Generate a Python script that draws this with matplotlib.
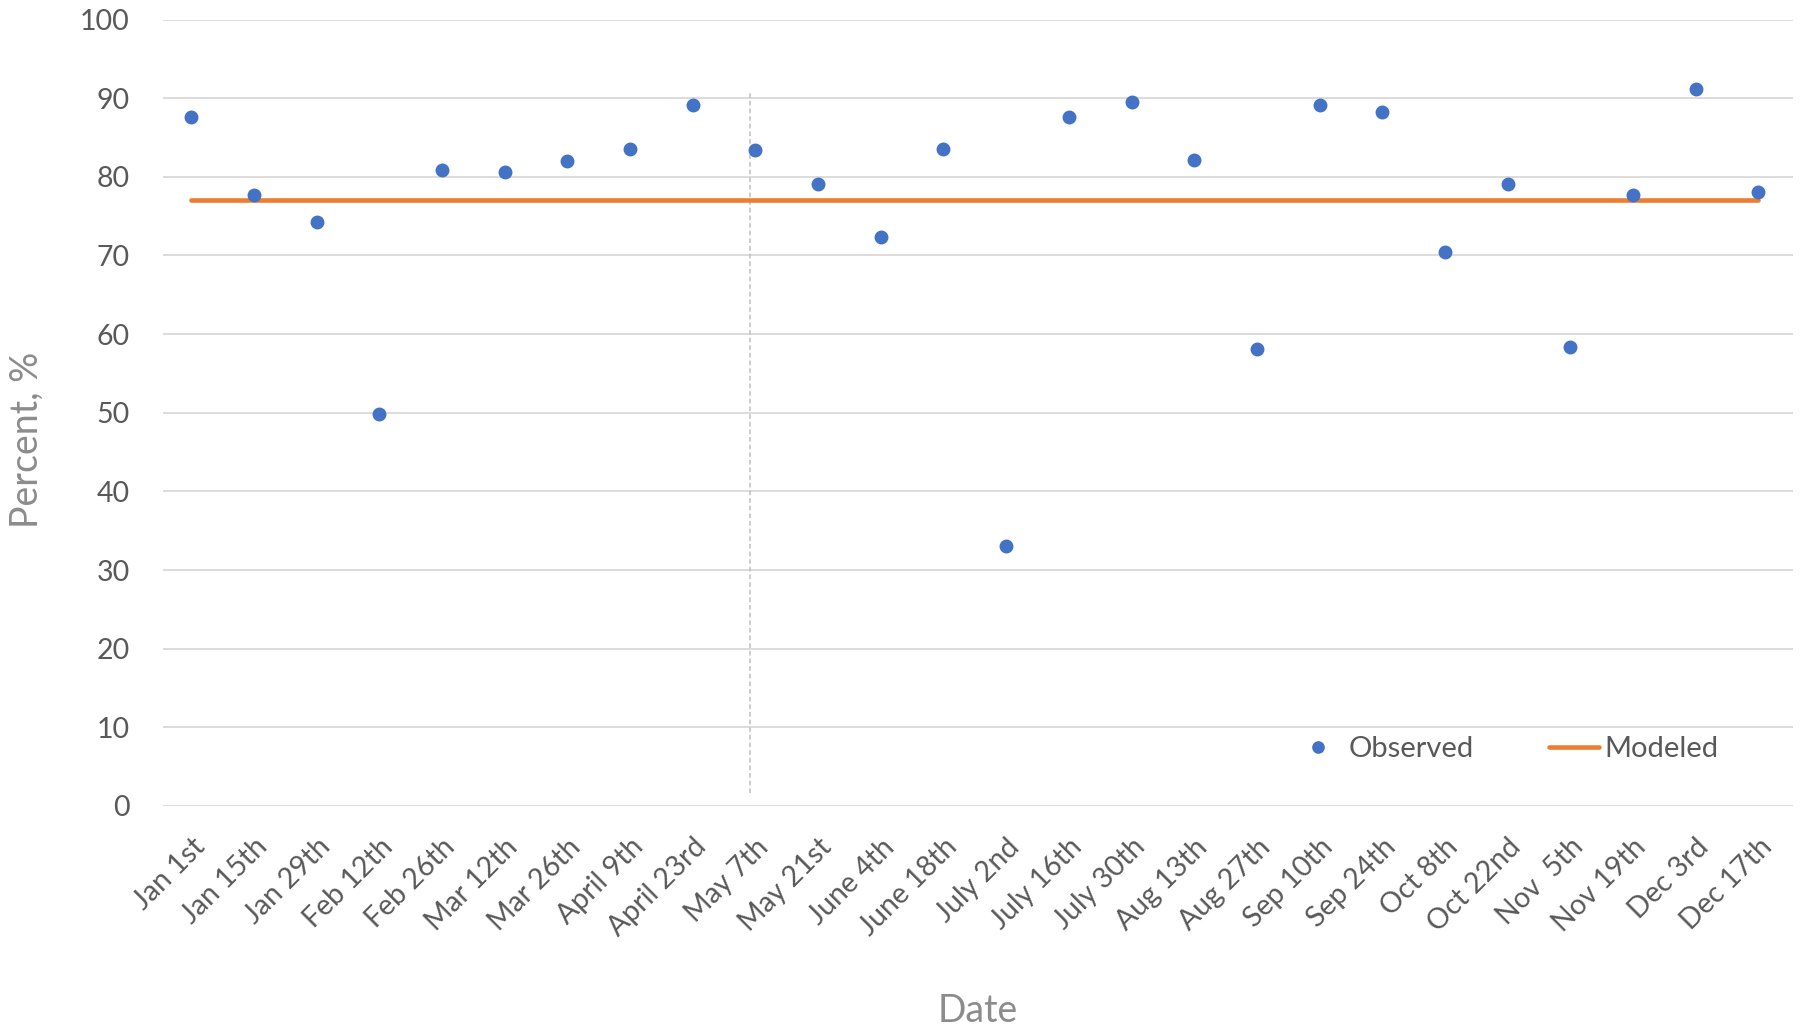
import matplotlib.pyplot as plt

# donnees
dates = ["Jan 1st", "Jan 15th", "Jan 29th", "Feb 12th", "Feb 26th", "Mar 12th",
         "Mar 26th", "April 9th", "April 23rd", "May 7th", "May 21st", "June 4th",
         "June 18th", "July 2nd", "July 16th", "July 30th", "Aug 13th", "Aug 27th",
         "Sep 10th", "Sep 24th", "Oct 8th", "Oct 22nd", "Nov  5th", "Nov 19th",
         "Dec 3rd", "Dec 17th"]
observed = [87.6, 77.7, 74.3, 49.9, 80.9, 80.6, 82.0, 83.5, 89.1, 83.4, 79.1, 72.4,
            83.6, 33.1, 87.6, 89.5, 82.2, 58.1, 89.2, 88.2, 70.5, 79.1, 58.4, 77.7,
            91.2, 78.1]
modeled = [77.1] * len(dates)
yticks = [0, 10, 20, 30, 40, 50, 60, 70, 80, 90, 100]

# repere vertical (tirets) et son etendue
marker_x = 8.92
marker_y = (1.7, 90.7)

plt.rcParams['font.family'] = ['Lato', 'DejaVu Sans']

fig = plt.figure(figsize=(18, 10.3), dpi=100)
ax = fig.add_axes([0.0906, 0.2175, 0.9054, 0.7635])

x = list(range(len(dates)))
ax.plot(x, modeled, color='#ED7D31', linewidth=3.3, label='Modeled', zorder=2,
        solid_capstyle='round')
ax.plot(x, observed, linestyle='none', marker='o', markersize=9,
        color='#4472C4', label='Observed', zorder=3)
ax.vlines(marker_x, marker_y[0], marker_y[1], colors='#BFBFBF',
          linestyles=(0, (3, 2)), linewidth=1.1, zorder=1)

ax.set_xlim(-0.45, 25.55)
ax.set_ylim(0, 100)
ax.set_yticks(yticks)
ax.set_xticks(x)
ax.set_xticklabels(dates, rotation=45, ha='right', rotation_mode='anchor')
ax.tick_params(axis='both', length=0, labelsize=20.5, labelcolor='#595959')
ax.tick_params(axis='x', pad=20)
ax.tick_params(axis='y', pad=24)
ax.grid(axis='y', color='#D9D9D9', linewidth=1.3)
ax.set_axisbelow(True)
for s in ax.spines.values():
    s.set_visible(False)

ax.set_ylabel("Percent, %", fontsize=27, color='#8C8C8C')
ax.yaxis.set_label_coords(-0.0725, 0.466)
ax.set_xlabel("Date", fontsize=27, color='#8C8C8C', labelpad=37)

h, l = ax.get_legend_handles_labels()
ax.legend([h[1], h[0]], [l[1], l[0]], ncol=2, frameon=False, fontsize=21,
          labelcolor='#595959', loc='center', bbox_to_anchor=(0.824, 0.072),
          columnspacing=2.6, handlelength=1.7, handletextpad=0.2,
          markerscale=0.9)

fig.savefig("out.png", dpi=100)
